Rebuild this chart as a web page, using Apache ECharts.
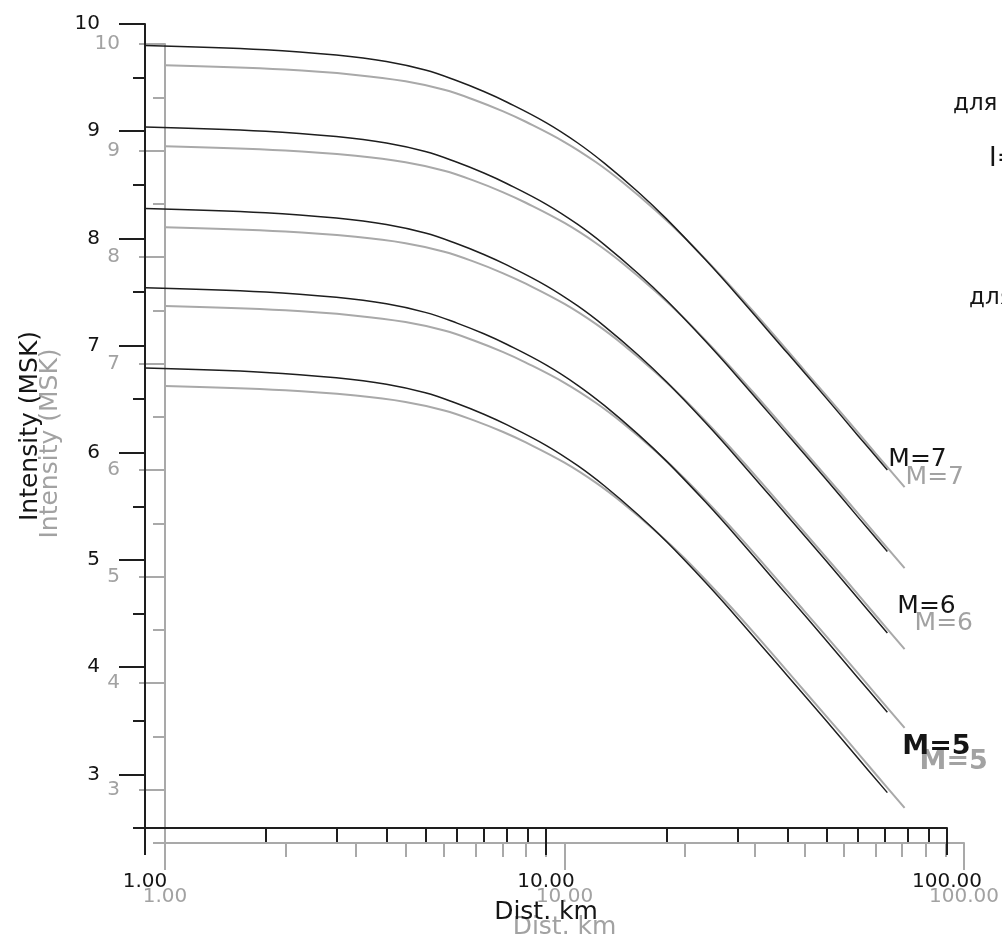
<!DOCTYPE html>
<html>
<head>
<meta charset="utf-8">
<script src="https://cdn.jsdelivr.net/npm/echarts@6/dist/echarts.min.js"></script>
<style>
  html, body { margin: 0; padding: 0; background: #fff; }
  #chart { width: 1002px; height: 945px; }
</style>
</head>
<body>
<div id="chart"></div>
<script>
// distance, km (log axis)
const dist = [1, 2, 3, 4, 5, 6, 7, 8, 10, 12, 14, 17, 20, 25, 30, 40, 50, 60, 71]
// intensity (MSK), top to bottom
const intM70 = [9.80, 9.76, 9.71, 9.65, 9.57, 9.47, 9.37, 9.27, 9.08, 8.89, 8.70, 8.43, 8.18, 7.80, 7.47, 6.93, 6.51, 6.16, 5.84]
const intM65 = [9.04, 9.00, 8.95, 8.89, 8.81, 8.71, 8.61, 8.51, 8.32, 8.13, 7.94, 7.67, 7.42, 7.04, 6.71, 6.17, 5.75, 5.40, 5.08]
const intM60 = [8.28, 8.24, 8.19, 8.13, 8.05, 7.95, 7.85, 7.75, 7.56, 7.37, 7.18, 6.91, 6.66, 6.28, 5.95, 5.41, 4.99, 4.64, 4.32]
const intM55 = [7.54, 7.50, 7.45, 7.39, 7.31, 7.21, 7.11, 7.01, 6.82, 6.63, 6.44, 6.17, 5.92, 5.54, 5.21, 4.67, 4.25, 3.90, 3.58]
const intM50 = [6.79, 6.75, 6.70, 6.64, 6.56, 6.46, 6.36, 6.26, 6.07, 5.88, 5.69, 5.42, 5.17, 4.79, 4.46, 3.92, 3.50, 3.15, 2.83]

const curveLabels = ['M=7', '', 'M=6', '', 'M=5']
const curveValues = [intM70, intM65, intM60, intM55, intM50]

const xMajor = [1, 10, 100]
const xMinor = [2, 3, 4, 5, 6, 7, 8, 9, 20, 30, 40, 50, 60, 70, 80, 90]
const yMajor = [3, 4, 5, 6, 7, 8, 9, 10]
const yMinor = [2.5, 3.5, 4.5, 5.5, 6.5, 7.5, 8.5, 9.5]

const FONT = 'DejaVu Sans'
// label placement next to the curve ends
const labelStyle = [
  { offset: [1, -10], size: 25, weight: 'normal' },
  null,
  { offset: [10, -26], size: 25, weight: 'normal' },
  null,
  { offset: [15, -46], size: 27, weight: 'bold' }
]

var chart = echarts.init(document.getElementById('chart'))

// the picture is the same plot drawn twice: gray copy shifted by (20, 20)
const layers = [
  { dx: 20, dy: 20, ink: '#a9a9a9', text: '#a2a2a2', width: 2, z: 1 },
  { dx: 0, dy: 0, ink: '#1e1e1e', text: '#151515', width: 1.5, z: 3 }
]

var grid = [], xAxis = [], yAxis = [], series = []

layers.forEach((ly, i) => {
  grid.push({ left: 145 + ly.dx, top: 24 + ly.dy, width: 802, height: 804 })

  xAxis.push({
    type: 'log', logBase: 10, min: 1, max: 100, gridIndex: i, position: 'bottom', z: ly.z,
    name: 'Dist. km', nameLocation: 'middle', nameGap: 72,
    nameTextStyle: { color: ly.text, fontFamily: FONT, fontSize: 25 },
    axisLine: { onZero: false, lineStyle: { color: ly.ink, width: 2 } },
    axisTick: { length: 27, customValues: xMajor, lineStyle: { color: ly.ink, width: 2 } },
    axisLabel: {
      customValues: xMajor, margin: 44, color: ly.text, fontFamily: FONT, fontSize: 20,
      formatter: v => Number(v).toFixed(2)
    },
    splitLine: { show: false }
  })
  xAxis.push({
    type: 'log', logBase: 10, min: 1, max: 100, gridIndex: i, position: 'bottom', offset: 0, z: ly.z,
    axisLine: { show: false, onZero: false },
    axisTick: { length: 14, customValues: xMinor, lineStyle: { color: ly.ink, width: 2 } },
    axisLabel: { show: false },
    splitLine: { show: false }
  })

  yAxis.push({
    type: 'value', min: 2.5, max: 10, gridIndex: i, position: 'left', z: ly.z,
    name: 'Intensity (MSK)', nameLocation: 'middle', nameGap: 102, nameRotate: 90,
    nameTextStyle: { color: ly.text, fontFamily: FONT, fontSize: 25 },
    axisLine: { show: true, onZero: false, lineStyle: { color: ly.ink, width: 2 } },
    axisTick: { show: true, length: 26, customValues: yMajor, lineStyle: { color: ly.ink, width: 2 } },
    axisLabel: { customValues: yMajor, margin: 45, color: ly.text, fontFamily: FONT, fontSize: 20 },
    splitLine: { show: false }
  })
  yAxis.push({
    type: 'value', min: 2.5, max: 10, gridIndex: i, position: 'left', offset: 0, z: ly.z,
    axisLine: { show: false, onZero: false },
    axisTick: { show: true, length: 12, customValues: yMinor, lineStyle: { color: ly.ink, width: 2 } },
    axisLabel: { show: false },
    splitLine: { show: false }
  })

  curveValues.forEach((vals, k) => {
    const lab = labelStyle[k]
    series.push({
      type: 'line',
      xAxisIndex: i * 2,
      yAxisIndex: i * 2,
      z: ly.z + 1,
      data: dist.map((d, j) => [d, vals[j]]),
      smooth: 0.4,
      showSymbol: false,
      silent: true,
      lineStyle: { color: ly.ink, width: ly.width },
      endLabel: lab ? {
        show: true, formatter: curveLabels[k], distance: 0, offset: lab.offset,
        color: ly.text, fontFamily: FONT, fontSize: lab.size, fontWeight: lab.weight
      } : { show: false }
    })
  })
})

var option = {
  animation: false,
  backgroundColor: '#fff',
  grid: grid,
  xAxis: xAxis,
  yAxis: yAxis,
  series: series,
  graphic: [
    { type: 'text', left: 953, top: 93, style: { text: 'для', fill: '#151515', font: '23px "DejaVu Sans"' } },
    { type: 'text', left: 989, top: 146, style: { text: 'I=', fill: '#151515', font: '26px "DejaVu Sans"' } },
    { type: 'text', left: 969, top: 287, style: { text: 'для', fill: '#151515', font: '23px "DejaVu Sans"' } }
  ]
}

chart.setOption(option)
</script>
</body>
</html>
